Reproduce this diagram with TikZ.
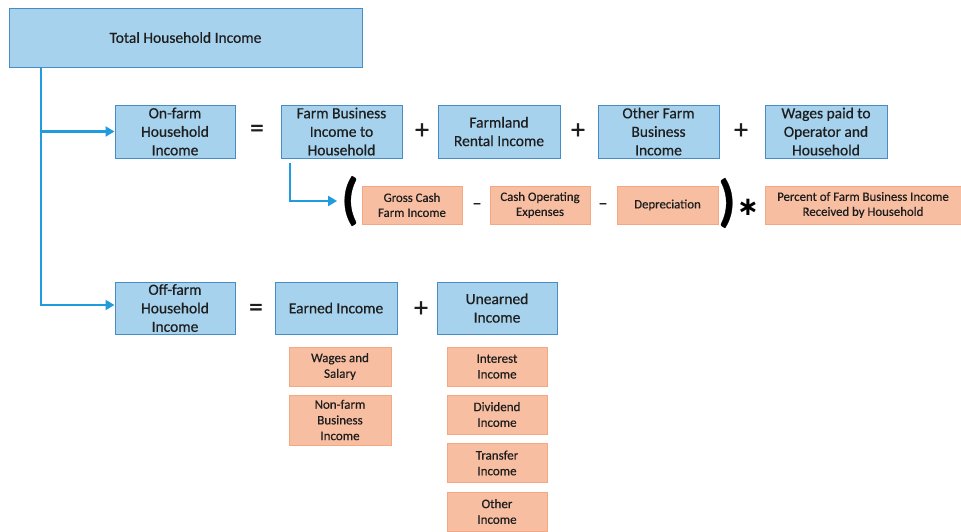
\documentclass[tikz,border=0pt]{standalone}
\usepackage{fontspec}
\setmainfont{Carlito}[FakeBold=0.5]
\newfontfamily\symfont{DejaVu Sans}
\usetikzlibrary{arrows.meta}
\definecolor{bluefill}{RGB}{166,210,238}
\definecolor{blueline}{RGB}{72,140,198}
\definecolor{orfill}{RGB}{248,190,162}
\definecolor{orline}{RGB}{244,168,130}
\definecolor{conncol}{RGB}{32,156,222}
\definecolor{txt}{RGB}{30,30,30}
\begin{document}
\begin{tikzpicture}[x=1pt,y=-1pt,
 bluebox/.style={draw=blueline, fill=bluefill, line width=1pt, inner sep=0pt, align=center, text=txt, font=\fontsize{15.5}{18.5}\selectfont},
 orbox/.style={draw=orline, fill=orfill, line width=0.8pt, inner sep=0pt, align=center, text=txt, font=\fontsize{12.8}{15}\selectfont},
 orbigbox/.style={orbox, font=\fontsize{13}{15.7}\selectfont},
 opsign/.style={text=txt, inner sep=0pt, font=\fontsize{28}{28}\selectfont},
 minussign/.style={text=txt, inner sep=0pt, font=\fontsize{18}{18}\selectfont},
 paren/.style={text=black, inner sep=0pt, font=\fontsize{56}{56}\selectfont\bfseries},
 conn/.style={draw=conncol, line width=2.6pt, -{Triangle[length=9pt,width=10pt]}}
]
\useasboundingbox (0,0) rectangle (961,531);

% Total
\node[bluebox, minimum width=353pt, minimum height=59pt] (total) at (185.5,37.5) {Total Household Income};

% Row 1
\node[bluebox, minimum width=120pt, minimum height=53pt] (onfarm) at (175,131.5) {On-farm\\Household\\Income};
\node[opsign] (eq1) at (257,131) {=};
\node[bluebox, minimum width=121pt, minimum height=53pt] (fb) at (341.5,131.5) {Farm Business\\Income to\\Household};
\node[opsign] (pl1) at (422,131) {+};
\node[bluebox, minimum width=122pt, minimum height=53pt] (farmland) at (499,131.5) {Farmland\\Rental Income};
\node[opsign] (pl2) at (578,131) {+};
\node[bluebox, minimum width=121pt, minimum height=53pt] (other) at (658.5,131.5) {Other Farm\\Business\\Income};
\node[opsign] (pl3) at (741,131) {+};
\node[bluebox, minimum width=122pt, minimum height=53pt] (wages) at (826,131.5) {Wages paid to\\Operator and\\Household};

% Row 2
\node[paren] (lp) at (350,201) {(};
\node[orbox, minimum width=100pt, minimum height=38pt] (gross) at (412,205) {Gross Cash\\Farm Income};
\node[minussign] (mi1) at (477,206) {–};
\node[orbox, minimum width=100pt, minimum height=38pt] (cashop) at (540,205) {Cash Operating\\Expenses};
\node[minussign] (mi2) at (603,206) {–};
\node[orbox, minimum width=101pt, minimum height=38pt] (dep) at (667.5,205) {Depreciation};
\node[paren] (rp) at (727,203) {)};
\node[text=black, inner sep=0pt, font=\symfont\bfseries\fontsize{26}{26}\selectfont] (ast) at (748,207) {∗};
\node[orbox, minimum width=196pt, minimum height=38pt] (percent) at (863,205) {Percent of Farm Business Income\\Received by Household};

% Row 3
\node[bluebox, minimum width=120pt, minimum height=52pt] (offfarm) at (175,308) {Off-farm\\Household\\Income};
\node[opsign] (eq2) at (256,310) {=};
\node[bluebox, minimum width=122pt, minimum height=52pt] (earned) at (336,308) {Earned Income};
\node[opsign] (pl4) at (421,309) {+};
\node[bluebox, minimum width=120pt, minimum height=52pt] (unearned) at (497,308) {Unearned\\Income};

% Row 4
\node[orbigbox, minimum width=102pt, minimum height=39pt] (wagesal) at (340,366.5) {Wages and\\Salary};
\node[orbigbox, minimum width=102pt, minimum height=50pt] (nonfarm) at (340,420) {Non-farm\\Business\\Income};
\node[orbigbox, minimum width=100pt, minimum height=39pt] (interest) at (497,366.5) {Interest\\Income};
\node[orbigbox, minimum width=100pt, minimum height=39pt] (dividend) at (497,414.5) {Dividend\\Income};
\node[orbigbox, minimum width=100pt, minimum height=39pt] (transfer) at (497,463) {Transfer\\Income};
\node[orbigbox, minimum width=100pt, minimum height=39pt] (otherinc) at (497,511.5) {Other\\Income};

% Connectors
\coordinate (tx) at (41,0);
\draw[conn] (total.south -| tx) |- ([yshift=3pt]offfarm.west);
\draw[conn] (tx |- onfarm.west) -- (onfarm.west);
\coordinate (fbx) at (290,0);
\draw[conn] ([yshift=-4pt]fbx |- fb.south) |- ([xshift=-4pt,yshift=0pt]lp.west);
\end{tikzpicture}
\end{document}
